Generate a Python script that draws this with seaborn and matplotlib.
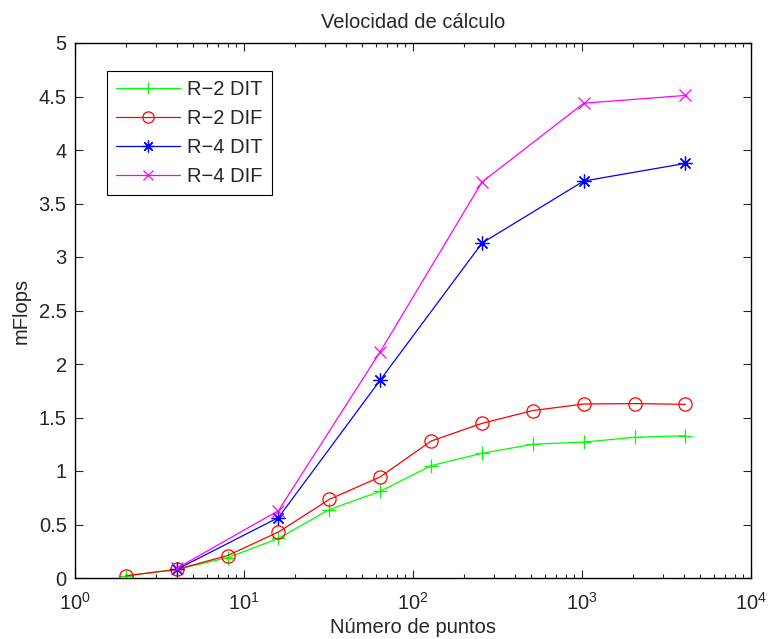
import numpy as np
import pandas as pd
import matplotlib
matplotlib.use("Agg")
import matplotlib.pyplot as plt
from matplotlib.ticker import LogLocator, FixedLocator, FormatStrFormatter, NullFormatter
import seaborn as sns

# Transform sizes (number of points)
n_radix2 = [2, 4, 8, 16, 32, 64, 128, 256, 512, 1024, 2048, 4096]
n_radix4 = [4, 16, 64, 256, 1024, 4096]

# Speed in mFlops for each algorithm
r2_dit = [0.02, 0.08, 0.19, 0.37, 0.64, 0.81, 1.05, 1.165, 1.25, 1.27, 1.315, 1.33]
r2_dif = [0.02, 0.08, 0.21, 0.43, 0.735, 0.945, 1.28, 1.445, 1.565, 1.626, 1.63, 1.623]
r4_dit = [0.08, 0.565, 1.85, 3.13, 3.71, 3.875]
r4_dif = [0.09, 0.63, 2.115, 3.70, 4.437, 4.51]

labels = ["R\u22122 DIT", "R\u22122 DIF", "R\u22124 DIT", "R\u22124 DIF"]
title = "Velocidad de cálculo"
xlabel = "Número de puntos"
ylabel = "mFlops"

FS = 14.5

sns.set_style("ticks")
plt.rcParams["font.family"] = ["Liberation Sans", "DejaVu Sans"]
plt.rcParams["mathtext.fontset"] = "custom"
plt.rcParams["mathtext.rm"] = "Liberation Sans"
plt.rcParams["mathtext.it"] = "Liberation Sans"

fig = plt.figure(figsize=(7.68, 6.39), dpi=100)
ax = fig.add_axes([75 / 768, 1 - 578 / 639, (751 - 75) / 768, (578 - 43) / 639])

asterisk = (8, 2, 0)
series = [
    (n_radix2, r2_dit, labels[0], "#00ff00", dict(marker="+", markersize=10, markeredgewidth=0.9)),
    (n_radix2, r2_dif, labels[1], "#ff0000", dict(marker="o", markersize=9.5, markerfacecolor="none", markeredgewidth=0.9)),
    (n_radix4, r4_dit, labels[2], "#0000ff", dict(marker=asterisk, markersize=10, markeredgewidth=0.9)),
    (n_radix4, r4_dif, labels[3], "#ff00ff", dict(marker="x", markersize=8, markeredgewidth=0.9)),
]

for xs, ys, lab, col, mk in series:
    df = pd.DataFrame({"n": xs, "mflops": ys})
    sns.lineplot(data=df, x="n", y="mflops", ax=ax, color=col, label=lab,
                 linewidth=0.9, markeredgecolor=col, **mk)

ax.set_xscale("log")
ax.set_xlim(1, 1e4)
ax.set_ylim(0, 5)
ax.yaxis.set_major_locator(FixedLocator(np.arange(0, 5.01, 0.5)))
ax.yaxis.set_major_formatter(FormatStrFormatter("%g"))
ax.xaxis.set_major_locator(LogLocator(base=10, numticks=10))
ax.xaxis.set_minor_locator(LogLocator(base=10, subs=np.arange(2, 10), numticks=10))
ax.xaxis.set_minor_formatter(NullFormatter())

ax.tick_params(which="both", direction="in", top=True, right=True, labelsize=FS)
ax.tick_params(axis="y", pad=6)
ax.tick_params(axis="x", pad=10)
ax.tick_params(which="major", length=6, width=0.8)
ax.tick_params(which="minor", length=3, width=0.8)
for s in ax.spines.values():
    s.set_linewidth(1.0)
    s.set_color("black")

ax.set_title(title, fontsize=FS, pad=11)
ax.set_xlabel(xlabel, fontsize=FS, labelpad=3)
ax.set_ylabel(ylabel, fontsize=FS, labelpad=6)

leg = ax.legend(loc="upper left", bbox_to_anchor=(0.047, 0.948), borderaxespad=0,
                fontsize=FS, frameon=True, fancybox=False, edgecolor="black",
                framealpha=1, handlelength=3.2, borderpad=0.45, labelspacing=0.5,
                handletextpad=0.35)
leg.get_frame().set_linewidth(0.8)
for h in leg.legend_handles:
    h.set_markersize(h.get_markersize() * 0.85)

fig.savefig("out.png", dpi=100)
